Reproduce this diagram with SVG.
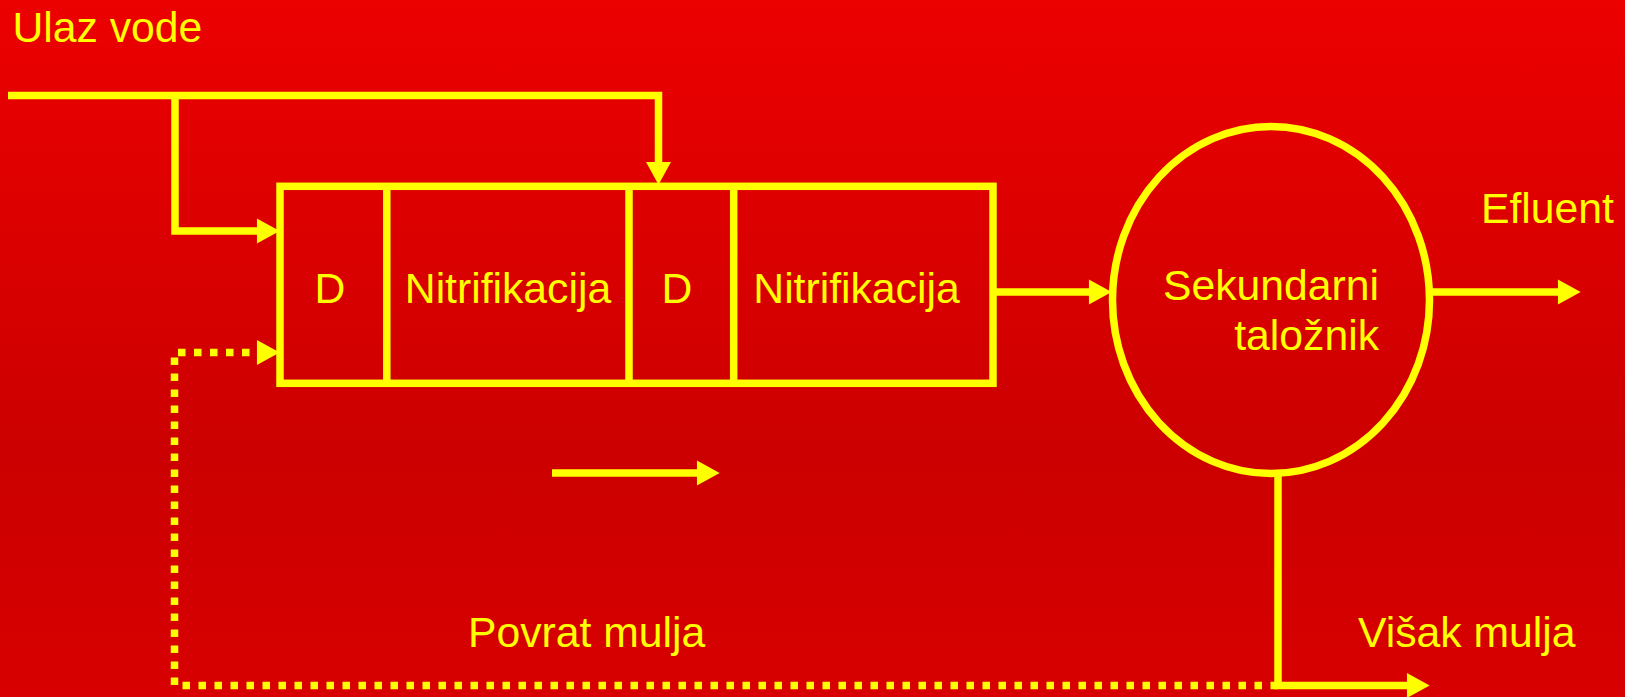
<svg xmlns="http://www.w3.org/2000/svg" width="1625" height="697" viewBox="0 0 1625 697">
  <defs>
    <linearGradient id="bg" x1="0" y1="0" x2="0" y2="1">
      <stop offset="0" stop-color="#EC0000"/>
      <stop offset="0.65" stop-color="#CC0000"/>
      <stop offset="1" stop-color="#D80000"/>
    </linearGradient>
    <marker id="arr" markerUnits="userSpaceOnUse" markerWidth="24" markerHeight="26" refX="1" refY="0" viewBox="0 -12 22 24" orient="auto" overflow="visible">
      <path d="M0,-11.5 L21,0 L0,11.5 z" fill="#FFFF00"/>
    </marker>
    <style>
      .t { font-family: "Liberation Sans", Arial, sans-serif; font-size: 42.7px; fill: #FFFF00; }
      .ln { fill: none; stroke: #FFFF00; stroke-width: 7.5; stroke-linejoin: miter; }
      .dot { stroke-dasharray: 7.5 8.5; }
      .shape { fill: none; stroke: #FFFF00; stroke-width: 7.5; }
    </style>
  </defs>
  <rect x="0" y="0" width="1625" height="697" fill="url(#bg)"/>

  <g id="connectors">
    <path class="ln" d="M8,95.5 H658.5 V163" marker-end="url(#arr)"/>
    <path class="ln" d="M175,95.5 V231 H258" marker-end="url(#arr)"/>
    <path class="ln" d="M993,292 H1090" marker-end="url(#arr)"/>
    <path class="ln" d="M1429,292 H1559" marker-end="url(#arr)"/>
    <path class="ln" d="M552,473 H698" marker-end="url(#arr)"/>
    <path class="ln" d="M1278,474 V685.5 H1408" marker-end="url(#arr)"/>
    <path class="ln dot" d="M1278,685.5 H174.5 V352.5 H258" marker-end="url(#arr)"/>
  </g>

  <g id="label-ulaz">
    <text class="t" x="12.4" y="41.5">Ulaz vode</text>
  </g>

  <g id="reactor">
    <rect class="shape" x="280" y="186.3" width="713" height="197"/>
    <line class="shape" x1="386.8" y1="186.3" x2="386.8" y2="383.3"/>
    <line class="shape" x1="629" y1="186.3" x2="629" y2="383.3"/>
    <line class="shape" x1="733.7" y1="186.3" x2="733.7" y2="383.3"/>
  </g>
  <g id="cell-d1"><text class="t" x="330" y="303" text-anchor="middle">D</text></g>
  <g id="cell-n1"><text class="t" x="508" y="303" text-anchor="middle">Nitrifikacija</text></g>
  <g id="cell-d2"><text class="t" x="677" y="303" text-anchor="middle">D</text></g>
  <g id="cell-n2"><text class="t" x="856.5" y="303" text-anchor="middle">Nitrifikacija</text></g>

  <g id="settler">
    <ellipse class="shape" cx="1271" cy="300" rx="158.5" ry="173.5"/>
    <text class="t" x="1379" y="300" text-anchor="end">Sekundarni</text>
    <text class="t" x="1379" y="350" text-anchor="end">taložnik</text>
  </g>

  <g id="label-efluent"><text class="t" x="1481" y="223">Efluent</text></g>
  <g id="label-povrat"><text class="t" x="468" y="646.5">Povrat mulja</text></g>
  <g id="label-visak"><text class="t" x="1358" y="646.5">Višak mulja</text></g>
</svg>
